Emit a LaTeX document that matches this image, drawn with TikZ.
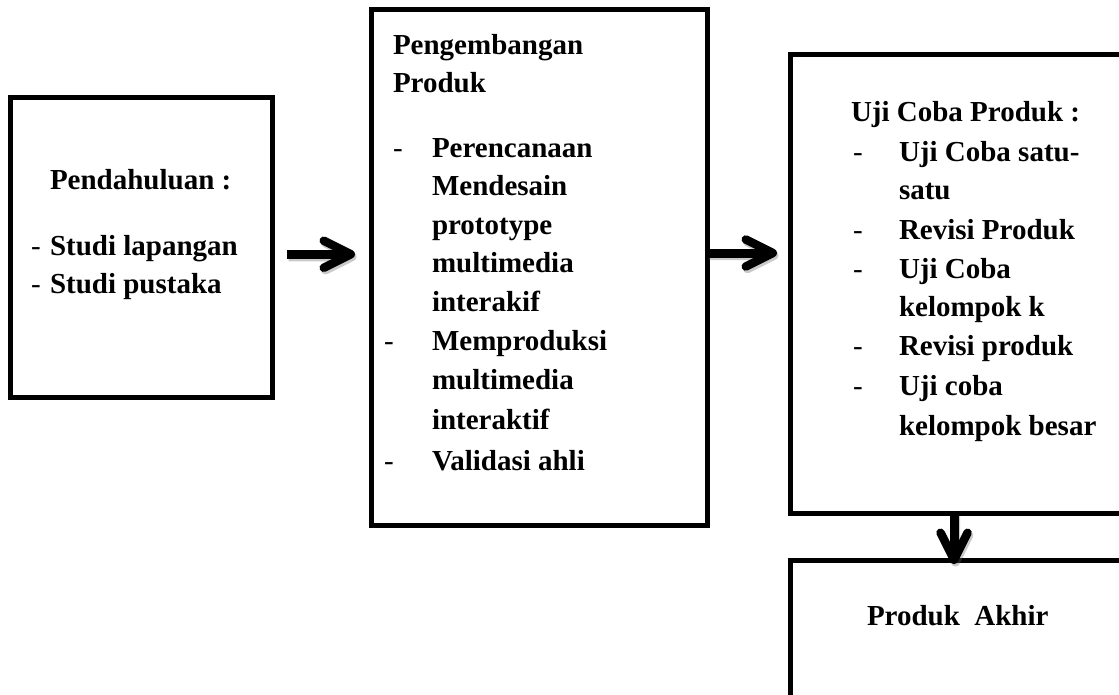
\documentclass[tikz,border=0pt]{standalone}
\usepackage{fontspec}
\setmainfont{Liberation Serif}
\usetikzlibrary{arrows.meta,fit}

\tikzset{
  stage/.style={draw=black, line width=5pt, rectangle, inner sep=0pt, outer sep=0pt},
  txt/.style={anchor=base west, inner sep=0pt, outer sep=0pt,
              font=\fontsize{29}{39}\selectfont\bfseries},
  bullet/.style={anchor=base west, inner sep=0pt, outer sep=0pt,
                 font=\fontsize{29}{39}\selectfont},
  flow/.style={line width=9pt,
               -{Straight Barb[length=27pt, width=27pt, line width=8.5pt, round]}},
  flowshade/.style={flow, draw=black!60},
}

\begin{document}
\begin{tikzpicture}[x=1pt, y=-1pt]
\useasboundingbox (0,0) rectangle (1119,695);
\clip (0,0) rectangle (1119,695);

% stage boxes
\node[stage, fit={(10,97.5) (272.5,397)}] (b1) {};
\node[stage, fit={(371.5,10) (707,525)}] (b2) {};
\node[stage, fit={(790,54.5) (1125,513)}] (b3) {};
\node[stage, fit={(790,560) (1125,705)}] (b4) {};

% box 1: Pendahuluan
\node[txt] (p0) at (50,190) {Pendahuluan :};
\node[bullet] (p1d) at (31,255) {-};
\node[txt] (p1) at (50,255) {Studi lapangan};
\node[bullet] (p2d) at (31,293) {-};
\node[txt] (p2) at (50,293) {Studi pustaka};

% box 2: Pengembangan Produk
\node[txt] (d0) at (393,55) {Pengembangan};
\node[txt] (d0b) at (393,93) {Produk};
\node[bullet] (d1d) at (393,158) {-};
\node[txt] (d1) at (432,158) {Perencanaan};
\node[txt] (d1b) at (432,196) {Mendesain};
\node[txt] (d1c) at (432,235) {prototype};
\node[txt] (d1e) at (432,272) {multimedia};
\node[txt] (d1f) at (432,311) {interakif};
\node[bullet] (d2d) at (384,350) {-};
\node[txt] (d2) at (432,350) {Memproduksi};
\node[txt] (d2b) at (432,389) {multimedia};
\node[txt] (d2c) at (432,429) {interaktif};
\node[bullet] (d3d) at (384,470) {-};
\node[txt] (d3) at (432,470) {Validasi ahli};

% box 3: Uji Coba Produk
\node[txt] (u0) at (851,122) {Uji Coba Produk :};
\node[bullet] (u1d) at (853,162) {-};
\node[txt] (u1) at (899,162) {Uji Coba satu-};
\node[txt] (u1b) at (899,200) {satu};
\node[bullet] (u2d) at (853,240) {-};
\node[txt] (u2) at (899,240) {Revisi Produk};
\node[bullet] (u3d) at (853,278) {-};
\node[txt] (u3) at (899,278) {Uji Coba};
\node[txt] (u3b) at (899,316) {kelompok k};
\node[bullet] (u4d) at (853,355) {-};
\node[txt] (u4) at (899,355) {Revisi produk};
\node[bullet] (u5d) at (853,395) {-};
\node[txt] (u5) at (899,395) {Uji coba};
\node[txt] (u5b) at (899,435) {kelompok besar};

% box 4: Produk Akhir
\node[txt] (a0) at (867,625) {Produk\ \ Akhir};

% soft shadows under the arrows
\begin{scope}[transparency group, opacity=0.35, transform canvas={shift={(1.5pt,-2.5pt)}}]
  \draw[flowshade, shorten <=14.5pt, shorten >=16.5pt]
    ([yshift=-7pt]b1.east) -- ([yshift=-7pt]b1.east -| b2.west);
  \draw[flowshade, shorten >=13pt]
    ([yshift=14.5pt]b2.east) -- ([yshift=14.5pt]b2.east -| b3.west);
  \draw[flowshade, shorten >=-4pt]
    ([xshift=-3.5pt]b3.south) -- ([xshift=-3.5pt]b3.south |- b4.north);
\end{scope}

% arrows
\draw[flow, shorten <=14.5pt, shorten >=16.5pt]
  ([yshift=-7pt]b1.east) -- ([yshift=-7pt]b1.east -| b2.west);
\draw[flow, shorten >=13pt]
  ([yshift=14.5pt]b2.east) -- ([yshift=14.5pt]b2.east -| b3.west);
\draw[flow, shorten >=-4pt]
  ([xshift=-3.5pt]b3.south) -- ([xshift=-3.5pt]b3.south |- b4.north);
\end{tikzpicture}
\end{document}
